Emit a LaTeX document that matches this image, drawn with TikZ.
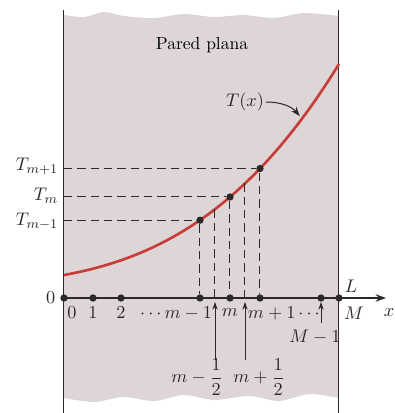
\documentclass[tikz,border=0pt]{standalone}
\usepackage{amsmath}
\usepackage{tikz}
\usetikzlibrary{
  arrows.meta,
  positioning,
  calc
}
\definecolor{wallcolor}{RGB}{222,214,214}
\definecolor{curvecolor}{RGB}{198,62,58}
\definecolor{linecolor}{RGB}{45,40,40}

\begin{document}
\begin{tikzpicture}[
    x=0.6pt, y=0.6pt,
    declare function={Tx(\s)=23+50*(\s/275)+86*(\s/275)^2+75*(\s/275)^3;},
    % Estilos de la pared
    wall/.style={draw=none, fill=wallcolor},
    wallline/.style={draw=linecolor, line width=0.6pt},
    % Estilos de las lineas
    axisline/.style={-{Stealth[length=2.2mm, width=1.6mm]}, line width=0.8pt, draw=linecolor},
    tcurve/.style={draw=curvecolor, line width=1.6pt},
    guide/.style={draw=linecolor, dash pattern=on 5pt off 3pt, line width=0.6pt},
    uparrow/.style={-{Stealth[length=1.6mm, width=1.1mm]}, line width=0.5pt, draw=linecolor},
    % Estilos de los nodos
    dot/.style={circle, fill=linecolor, inner sep=0pt, minimum size=4.4pt},
    ticklabel/.style={font=\fontsize{11pt}{13pt}\selectfont, text=linecolor, inner sep=1pt},
]

\useasboundingbox (-64,-115) rectangle (331,298);

% ============================================================================
% PARED
% ============================================================================
\fill[wall] plot[smooth] coordinates {(0,283) (20,281) (40,286) (60,282) (90,280)
    (120,284) (150,281) (180,283) (210,280) (240,285) (275,282)}
    -- plot[smooth] coordinates {(275,-100) (245,-96) (215,-103) (185,-98)
    (150,-102) (120,-97) (90,-103) (60,-99) (30,-104) (0,-100)} -- cycle;

\coordinate (wallLt) at (0,288);
\coordinate (wallLb) at (0,-115);
\coordinate (wallRt) at (275,288);
\coordinate (wallRb) at (275,-115);
\draw[wallline] (wallLt) -- (wallLb);
\draw[wallline] (wallRt) -- (wallRb);

\node[font=\fontsize{10.5pt}{12pt}\selectfont] (title) at (138,253) {Pared plana};

% ============================================================================
% EJE x
% ============================================================================
\coordinate (o) at (0,0);
\coordinate (xend) at (322,0);
\draw[axisline] (o) -- (xend);

\foreach \nm/\X in {n0/0, n1/29, n2/57, nmm/136, nm/166, nmp/196, nMm/257, nM/275}
    \node[dot] (\nm) at (\X,0) {};

\node[ticklabel, left=4pt of o] (zero) {$0$};
\node[ticklabel] (l0) at (8,-15) {$0$};
\node[ticklabel] (l1) at (29,-15) {$1$};
\node[ticklabel] (l2) at (57,-15) {$2$};
\node[ticklabel, anchor=east] (lmm) at (150,-15) {$\cdots m-1$};
\node[ticklabel] (lm) at (166,-15) {$m$};
\node[ticklabel, anchor=west] (lmp) at (182,-15) {$m+1\cdots$};
\node[ticklabel] (lM) at (290,-15) {$M$};
\node[ticklabel] (lL) at (287,12) {$L$};
\node[ticklabel] (lx) at (325,-15) {$x$};

% ============================================================================
% CURVA T(x)
% ============================================================================
\draw[tcurve] plot[domain=0:275, samples=80] (\x,{Tx(\x)});

\foreach \nm/\X in {cmm/136, cm/166, cmp/196}
    \node[dot] (\nm) at (\X,{Tx(\X)}) {};
\coordinate (hm) at (151,{Tx(151)});
\coordinate (hp) at (181,{Tx(181)});

\node[ticklabel, anchor=east] (Tmm) at (-4,{Tx(136)-1}) {$T_{m-1}$};
\node[ticklabel, anchor=east] (Tm) at (-4,{Tx(166)+1}) {$T_m$};
\node[ticklabel, anchor=east] (Tmp) at (-4,{Tx(196)+2}) {$T_{m+1}$};

\draw[guide] (cmm -| o) -- (cmm);
\draw[guide] (cm -| o) -- (cm);
\draw[guide] (cmp -| o) -- (cmp);
\draw[guide] (cmm) -- (nmm);
\draw[guide] (cm) -- (nm);
\draw[guide] (cmp) -- (nmp);
\draw[guide] (hm) -- (hm |- o);
\draw[guide] (hp) -- (hp |- o);

\node[ticklabel] (Tlabel) at (181,196) {$T(x)$};
\coordinate (tt) at (238,{Tx(238)});
\draw[-{Stealth[length=2mm, width=1.4mm]}, line width=0.6pt, draw=linecolor,
    shorten >=2pt] (Tlabel.east) to[bend left=25] (tt);

% ============================================================================
% PUNTOS MEDIOS
% ============================================================================
\coordinate (hmb) at (151,-62);
\coordinate (hmt) at (151,-4);
\coordinate (hpb) at (181,-62);
\coordinate (hpt) at (181,-4);
\coordinate (Mmb) at (257,-25);
\coordinate (Mmt) at (257,-4);
\draw[uparrow] (hmb) -- (hmt);
\draw[uparrow] (hpb) -- (hpt);
\draw[uparrow] (Mmb) -- (Mmt);

\node[ticklabel] (lhm) at (133,-79) {$m-\dfrac{1}{2}$};
\node[ticklabel] (lhp) at (195,-79) {$m+\dfrac{1}{2}$};
\node[ticklabel] (lMm) at (251,-39) {$M-1$};

\end{tikzpicture}
\end{document}
